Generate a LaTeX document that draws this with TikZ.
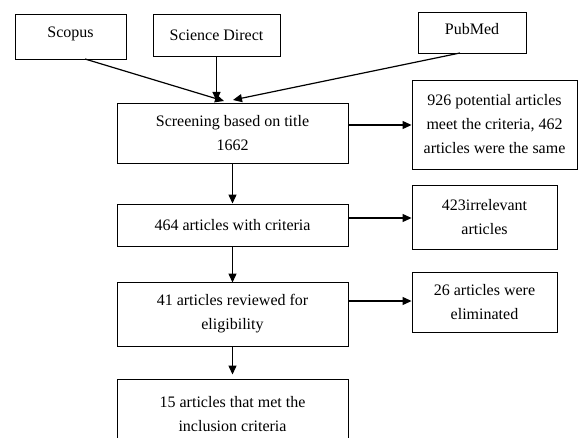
\documentclass[tikz,border=0pt]{standalone}
\usepackage{fontspec}
\setmainfont{Liberation Serif}
\usetikzlibrary{arrows.meta}
\begin{document}
\begin{tikzpicture}[x=1pt,y=1pt,
  box/.style={draw,line width=0.9pt,align=center,inner sep=0pt,font=\fontsize{16}{24}\selectfont},
  arr/.style={line width=1.2pt,-{Triangle[length=9pt,width=8pt]}}]
\clip (0,0) rectangle (580,-438);
\fill[white] (0,0) rectangle (580,-438);
% top sources
\node[box,minimum width=111pt,minimum height=45pt,text depth=8pt] (scopus) at (70.5,-36.5) {Scopus};
\node[box,minimum width=127pt,minimum height=42pt] (sd) at (216.5,-35) {Science Direct};
\node[box,minimum width=108pt,minimum height=41pt,text depth=7pt] (pub) at (472,-32.5) {PubMed};
% main column
\node[box,minimum width=231pt,minimum height=60pt] (screen) at (232.5,-133) {Screening based on title\\1662};
\node[box,minimum width=231pt,minimum height=42pt] (c464) at (232.5,-225) {464 articles with criteria};
\node[box,minimum width=231pt,minimum height=64pt] (c41) at (232.5,-314) {41 articles reviewed for\\eligibility};
\node[box,minimum width=231pt,minimum height=70pt] (c15) at (232.5,-414) {15 articles that met the\\inclusion criteria};
% side boxes
\node[box,minimum width=165pt,minimum height=89pt] (s926) at (494.5,-124.5) {926 potential articles\\meet the criteria, 462\\articles were the same};
\node[box,minimum width=145pt,minimum height=64pt] (s423) at (484.5,-217) {423irrelevant\\articles};
\node[box,minimum width=145pt,minimum height=60pt] (s26) at (484.5,-302) {26 articles were\\eliminated};
% connectors
\coordinate (t1) at (224,-101);
\coordinate (t2) at (233,-100);
\draw[arr] (85,-59) -- (t1);
\draw[arr] (sd.south) -- (sd.south |- t1);
\draw[arr] (460,-53) -- (t2);
\draw[arr] (screen.east |- 0,-125) -- (s926.west |- 0,-125);
\draw[arr] (screen.south) -- (c464.north);
\draw[arr] (c464.east |- 0,-218) -- (s423.west |- 0,-218);
\draw[arr] (c464.south) -- ([yshift=-1pt]c41.north);
\draw[arr] (c41.east |- 0,-301) -- (s26.west |- 0,-301);
\draw[arr] (c41.south) -- ([yshift=4pt]c15.north);
\end{tikzpicture}
\end{document}
